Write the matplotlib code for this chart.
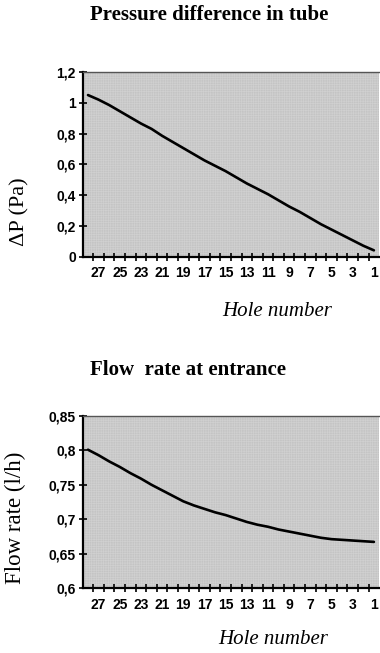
import matplotlib
matplotlib.use("Agg")
import matplotlib.pyplot as plt
from matplotlib.patches import Rectangle
from matplotlib.ticker import FixedLocator, FuncFormatter

# hole numbers, counted down from the tube entrance
holes = list(range(28, 0, -1))
hole_labels = [str(h) if h % 2 == 1 else "" for h in holes]

# pressure difference along the tube (Pa)
delta_p = [1.05, 1.02, 0.985, 0.945, 0.905, 0.865, 0.83, 0.785, 0.745, 0.705,
           0.665, 0.625, 0.59, 0.555, 0.515, 0.475, 0.44, 0.405, 0.365, 0.325,
           0.29, 0.25, 0.21, 0.175, 0.14, 0.105, 0.07, 0.04]

# flow rate at entrance (l/h)
flow_rate = [0.801, 0.793, 0.784, 0.776, 0.767, 0.759, 0.750, 0.742, 0.734, 0.726,
             0.720, 0.715, 0.710, 0.706, 0.701, 0.696, 0.692, 0.689, 0.685, 0.682,
             0.679, 0.676, 0.673, 0.671, 0.670, 0.669, 0.668, 0.667]

p_ticks = [0, 0.2, 0.4, 0.6, 0.8, 1.0, 1.2]
q_ticks = [0.6, 0.65, 0.7, 0.75, 0.8, 0.85]

serif = "Liberation Serif"
tick_font = dict(family=["Liberation Sans Narrow", "Liberation Sans"], size=10, weight="bold")
plt.rcParams["hatch.linewidth"] = 0.5

W, H = 380, 653
fig = plt.figure(figsize=(W / 100, H / 100), dpi=100)


def comma(v, pos):
    s = ("%g" % round(v, 3)).replace(".", ",")
    return s


def panel(top, bottom, values, yticks):
    ax = fig.add_axes([82.7 / W, 1 - bottom / H, 296.5 / W, (bottom - top) / H])
    n = len(values)
    ax.set_xlim(-0.5, n - 0.5)
    ax.set_ylim(yticks[0], yticks[-1])
    ax.set_facecolor("#c4c4c4")
    ax.add_patch(Rectangle((0, 0), 1, 1, transform=ax.transAxes, facecolor="none",
                           edgecolor="#d0d0d0", hatch="+" * 7, lw=0, zorder=0.5))
    ax.plot(range(n), values, color="black", lw=1.9, zorder=3,
            solid_capstyle="round")

    # category labels in the middle, tick marks on the boundaries
    ax.set_xticks(range(n))
    ax.set_xticklabels(hole_labels, **tick_font)
    ax.tick_params(axis="x", which="major", length=0, pad=7)
    ax.xaxis.set_minor_locator(FixedLocator([i + 0.5 for i in range(n - 1)]))
    ax.tick_params(axis="x", which="minor", direction="inout", length=6, width=1.2)

    ax.set_yticks(yticks)
    ax.yaxis.set_major_formatter(FuncFormatter(comma))
    for lab in ax.get_yticklabels():
        lab.set_fontproperties(dict(tick_font))
    ax.tick_params(axis="y", direction="inout", length=6, width=1.2, pad=2)

    for side in ("left", "bottom"):
        ax.spines[side].set_linewidth(1.6)
        ax.spines[side].set_color("black")
    ax.spines["top"].set_color("#555555")
    ax.spines["top"].set_linewidth(1.0)
    ax.spines["right"].set_visible(False)
    return ax


panel(72, 256.5, delta_p, p_ticks)
panel(416, 588, flow_rate, q_ticks)

# titles and axis names
fig.text(209 / W, 1 - 15 / H, "Pressure difference in tube", family=serif,
         weight="bold", size=15, ha="center", va="center")
fig.text(188 / W, 1 - 370 / H, "Flow  rate at entrance", family=serif,
         weight="bold", size=15, ha="center", va="center")
fig.text(20 / W, 1 - 212 / H, "\u0394P (Pa)", family=serif, size=16,
         rotation=90, ha="center", va="center")
fig.text(15 / W, 1 - 518 / H, "Flow rate (l/h)", family=serif, size=16.5,
         rotation=90, ha="center", va="center")
fig.text(277 / W, 1 - 312 / H, "Hole number", family=serif, style="italic",
         size=15, ha="center", va="center")
fig.text(273 / W, 1 - 640 / H, "Hole number", family=serif, style="italic",
         size=15, ha="center", va="center")

fig.savefig("out.png", dpi=100)
